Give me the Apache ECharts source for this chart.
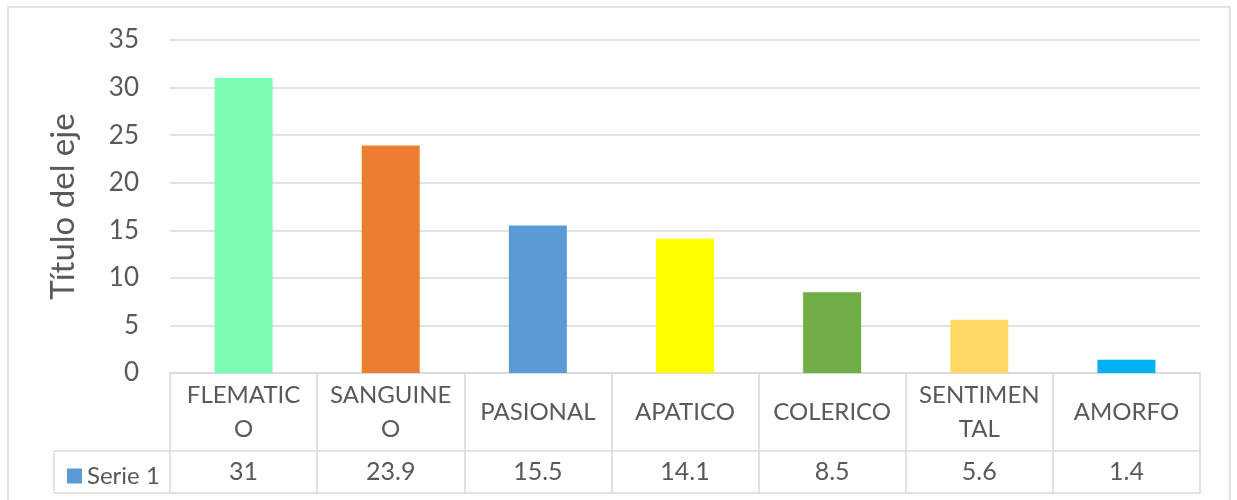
<!DOCTYPE html>
<html>
<head>
<meta charset="utf-8">
<script src="https://cdn.jsdelivr.net/npm/echarts@6/dist/echarts.min.js"></script>
<style>
html,body{margin:0;padding:0;background:#fff;}
#c{width:1237px;height:500px;}
</style>
</head>
<body>
<div id="c"></div>
<script>
var categories = ['FLEMATICO', 'SANGUINEO', 'PASIONAL', 'APATICO', 'COLERICO', 'SENTIMENTAL', 'AMORFO'];
var tickLabels = ['FLEMATIC\nO', 'SANGUINE\nO', 'PASIONAL', 'APATICO', 'COLERICO', 'SENTIMEN\nTAL', 'AMORFO'];
var values = [31, 23.9, 15.5, 14.1, 8.5, 5.6, 1.4];
var barColors = ['#7BFCB3', '#ED7D31', '#5B9BD5', '#FFFF00', '#70AD47', '#FFD966', '#00B0F0'];
var seriesName = 'Serie 1';
var yTicks = [0, 5, 10, 15, 20, 25, 30, 35];

var FONT = 'Lato';
var TXT = '#595959';
var LINE = '#D9D9D9';
var G = {left: 170, right: 37, top: 40, bottom: 127};
var H = 500, W = 1237;
var axisY = H - G.bottom;      // 373
var row1 = 78, row2 = 120;
var legendLeft = 54;

var chart = echarts.init(document.getElementById('c'), null, {renderer: 'canvas'});
chart.setOption({
  backgroundColor: '#fff',
  animation: false,
  textStyle: {fontFamily: FONT},
  grid: {left: G.left, right: G.right, top: G.top, bottom: G.bottom, containLabel: false},
  legend: {
    data: [{name: seriesName, itemStyle: {color: '#5B9BD5'}}],
    left: 62, top: axisY + row1 + 8,
    icon: 'rect', itemWidth: 15, itemHeight: 15, itemGap: 6, itemTextGap: 8,
    textStyle: {fontFamily: FONT, fontSize: 24, color: TXT},
    selectedMode: false
  },
  xAxis: [{
    type: 'category', data: categories, position: 'bottom',
    axisLine: {show: true, lineStyle: {color: LINE, width: 1.5}},
    axisTick: {show: true, interval: 0, length: row1, lineStyle: {color: LINE, width: 1.5}},
    axisLabel: {
      interval: 0, margin: row1 / 2, verticalAlign: 'middle', align: 'center',
      fontFamily: FONT, fontSize: 24, lineHeight: 34, color: TXT,
      formatter: function (v, i) { return tickLabels[i]; }
    },
    splitLine: {show: false}
  }, {
    type: 'category', data: categories, position: 'bottom', offset: row1,
    axisLine: {show: true, lineStyle: {color: LINE, width: 1.5}},
    axisTick: {show: true, interval: 0, length: row2 - row1, lineStyle: {color: LINE, width: 1.5}},
    axisLabel: {
      interval: 0, margin: (row2 - row1) / 2, verticalAlign: 'middle', align: 'center',
      fontFamily: FONT, fontSize: 25, color: TXT,
      formatter: function (v, i) { return String(values[i]); }
    }
  }, {
    type: 'category', data: categories, position: 'bottom', offset: row2,
    axisLine: {show: true, lineStyle: {color: LINE, width: 1.5}},
    axisTick: {show: false},
    axisLabel: {show: false}
  }],
  yAxis: {
    type: 'value', min: yTicks[0], max: yTicks[yTicks.length - 1], interval: 5,
    name: 'Título del eje', nameLocation: 'middle', nameGap: 90, nameRotate: 90,
    nameTextStyle: {fontFamily: FONT, fontSize: 33, color: TXT},
    axisLine: {show: false}, axisTick: {show: false},
    axisLabel: {fontFamily: FONT, fontSize: 26, color: TXT, margin: 31},
    splitLine: {show: true, lineStyle: {color: LINE, width: 1.5}}
  },
  series: [{
    name: seriesName, type: 'bar', xAxisIndex: 0, barWidth: 58,
    itemStyle: {color: '#5B9BD5'},
    data: values.map(function (v, i) { return {value: v, itemStyle: {color: barColors[i]}}; })
  }],
  graphic: [
    {type: 'rect', silent: true, shape: {x: 8, y: 7, width: 1222, height: 510},
     style: {fill: 'none', stroke: LINE, lineWidth: 1.5}},
    {type: 'line', silent: true, shape: {x1: legendLeft, y1: axisY + row1, x2: G.left, y2: axisY + row1},
     style: {stroke: LINE, lineWidth: 1.5}},
    {type: 'line', silent: true, shape: {x1: legendLeft, y1: axisY + row2, x2: G.left, y2: axisY + row2},
     style: {stroke: LINE, lineWidth: 1.5}},
    {type: 'line', silent: true, shape: {x1: legendLeft, y1: axisY + row1, x2: legendLeft, y2: axisY + row2},
     style: {stroke: LINE, lineWidth: 1.5}}
  ]
});
</script>
</body>
</html>
